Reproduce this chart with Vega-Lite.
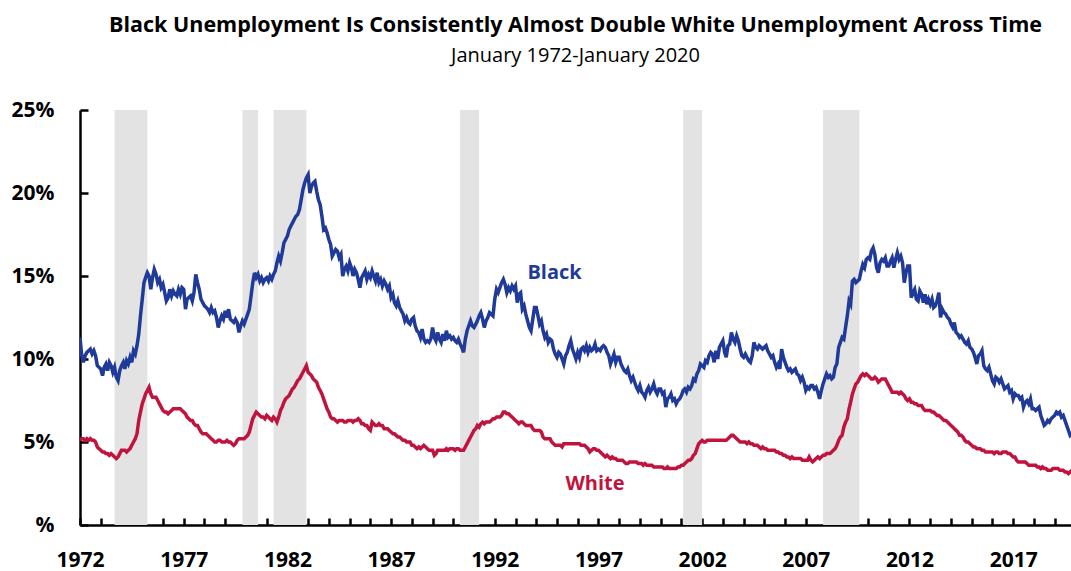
{
"$schema": "https://vega.github.io/schema/vega-lite/v6.json",
"width": 991, "height": 415,
"autosize": {"type": "none"},
"padding": {"left": 80, "top": 110, "right": 0, "bottom": 46},
"background": "white",
"config": {"view": {"stroke": null}, "font": "Open Sans"},
"title": {"text": "Black Unemployment Is Consistently Almost Double White Unemployment Across Time", "subtitle": "January 1972-January 2020", "anchor": "middle", "fontSize": 21.5, "fontWeight": "bold", "font": "Open Sans", "color": "black", "subtitleFontSize": 20, "subtitleFont": "Open Sans", "subtitleColor": "black", "subtitlePadding": 10, "offset": 33, "dx": 0},
"datasets": {
"recessions": [
{"start": "1973-09", "end": "1975-04"}, {"start": "1979-11", "end": "1980-08"}, {"start": "1981-05", "end": "1982-12"}, {"start": "1990-05", "end": "1991-04"}, {"start": "2001-02", "end": "2002-01"}, {"start": "2007-11", "end": "2009-08"}
],
"labels": [
{"label": "Black", "date": "1994-11-20", "value": 15.2}, {"label": "White", "date": "1996-11-01", "value": 2.5}
],
"rates": [
{"d":"1972-01","b":11.3,"w":5.1},{"d":"1972-02","b":10.2,"w":5.2},{"d":"1972-03","b":9.8,"w":5.2},{"d":"1972-04","b":10.2,"w":5.1},{"d":"1972-05","b":10.4,"w":5.2},{"d":"1972-06","b":10.5,"w":5.1},{"d":"1972-07","b":10.6,"w":5.2},{"d":"1972-08","b":10.3,"w":5.1},{"d":"1972-09","b":10.5,"w":5.1},{"d":"1972-10","b":10.2,"w":5.0},{"d":"1972-11","b":9.6,"w":4.7},{"d":"1972-12","b":9.5,"w":4.6},
{"d":"1973-01","b":9.4,"w":4.5},{"d":"1973-02","b":9.0,"w":4.4},{"d":"1973-03","b":9.5,"w":4.4},{"d":"1973-04","b":9.7,"w":4.3},{"d":"1973-05","b":9.3,"w":4.3},{"d":"1973-06","b":9.8,"w":4.2},{"d":"1973-07","b":9.6,"w":4.3},{"d":"1973-08","b":9.2,"w":4.2},{"d":"1973-09","b":9.5,"w":4.1},{"d":"1973-10","b":8.9,"w":4.0},{"d":"1973-11","b":8.7,"w":4.1},{"d":"1973-12","b":9.3,"w":4.3},
{"d":"1974-01","b":9.6,"w":4.5},{"d":"1974-02","b":9.8,"w":4.5},{"d":"1974-03","b":9.4,"w":4.5},{"d":"1974-04","b":9.9,"w":4.4},{"d":"1974-05","b":9.7,"w":4.5},{"d":"1974-06","b":10.1,"w":4.6},{"d":"1974-07","b":9.8,"w":4.8},{"d":"1974-08","b":10.5,"w":5.0},{"d":"1974-09","b":10.3,"w":5.2},{"d":"1974-10","b":10.8,"w":5.5},{"d":"1974-11","b":11.5,"w":6.3},{"d":"1974-12","b":12.6,"w":6.8},
{"d":"1975-01","b":13.6,"w":7.3},{"d":"1975-02","b":14.6,"w":7.6},{"d":"1975-03","b":14.9,"w":7.9},{"d":"1975-04","b":15.2,"w":8.1},{"d":"1975-05","b":15.0,"w":8.3},{"d":"1975-06","b":14.2,"w":7.9},{"d":"1975-07","b":14.9,"w":7.7},{"d":"1975-08","b":15.4,"w":7.7},{"d":"1975-09","b":15.1,"w":7.7},{"d":"1975-10","b":14.6,"w":7.5},{"d":"1975-11","b":14.8,"w":7.3},{"d":"1975-12","b":14.3,"w":7.1},
{"d":"1976-01","b":14.5,"w":6.9},{"d":"1976-02","b":14.0,"w":6.8},{"d":"1976-03","b":13.5,"w":6.8},{"d":"1976-04","b":13.7,"w":6.7},{"d":"1976-05","b":14.2,"w":6.8},{"d":"1976-06","b":13.8,"w":6.9},{"d":"1976-07","b":14.1,"w":7.0},{"d":"1976-08","b":13.9,"w":7.0},{"d":"1976-09","b":13.8,"w":7.0},{"d":"1976-10","b":14.2,"w":7.0},{"d":"1976-11","b":13.9,"w":7.0},{"d":"1976-12","b":14.3,"w":6.9},
{"d":"1977-01","b":14.2,"w":6.8},{"d":"1977-02","b":13.0,"w":6.7},{"d":"1977-03","b":13.6,"w":6.5},{"d":"1977-04","b":13.7,"w":6.4},{"d":"1977-05","b":13.8,"w":6.3},{"d":"1977-06","b":13.5,"w":6.3},{"d":"1977-07","b":14.0,"w":6.1},{"d":"1977-08","b":15.1,"w":6.0},{"d":"1977-09","b":14.6,"w":6.0},{"d":"1977-10","b":14.2,"w":5.8},{"d":"1977-11","b":13.6,"w":5.6},{"d":"1977-12","b":13.4,"w":5.5},
{"d":"1978-01","b":13.2,"w":5.5},{"d":"1978-02","b":13.1,"w":5.5},{"d":"1978-03","b":13.0,"w":5.4},{"d":"1978-04","b":12.8,"w":5.3},{"d":"1978-05","b":13.1,"w":5.2},{"d":"1978-06","b":12.8,"w":5.1},{"d":"1978-07","b":12.9,"w":5.0},{"d":"1978-08","b":12.5,"w":5.0},{"d":"1978-09","b":11.9,"w":5.1},{"d":"1978-10","b":12.3,"w":5.1},{"d":"1978-11","b":12.6,"w":5.0},{"d":"1978-12","b":12.4,"w":5.0},
{"d":"1979-01","b":12.9,"w":5.0},{"d":"1979-02","b":12.5,"w":5.1},{"d":"1979-03","b":13.0,"w":5.0},{"d":"1979-04","b":12.4,"w":5.0},{"d":"1979-05","b":12.3,"w":4.9},{"d":"1979-06","b":12.2,"w":4.8},{"d":"1979-07","b":12.4,"w":4.9},{"d":"1979-08","b":12.2,"w":5.1},{"d":"1979-09","b":11.6,"w":5.2},{"d":"1979-10","b":12.0,"w":5.2},{"d":"1979-11","b":12.3,"w":5.2},{"d":"1979-12","b":12.1,"w":5.2},
{"d":"1980-01","b":12.4,"w":5.3},{"d":"1980-02","b":12.7,"w":5.4},{"d":"1980-03","b":13.0,"w":5.6},{"d":"1980-04","b":13.8,"w":6.0},{"d":"1980-05","b":14.6,"w":6.4},{"d":"1980-06","b":15.2,"w":6.6},{"d":"1980-07","b":14.9,"w":6.8},{"d":"1980-08","b":15.1,"w":6.7},{"d":"1980-09","b":14.7,"w":6.6},{"d":"1980-10","b":14.9,"w":6.5},{"d":"1980-11","b":14.6,"w":6.5},{"d":"1980-12","b":14.8,"w":6.4},
{"d":"1981-01","b":14.9,"w":6.6},{"d":"1981-02","b":14.7,"w":6.5},{"d":"1981-03","b":15.0,"w":6.4},{"d":"1981-04","b":14.8,"w":6.3},{"d":"1981-05","b":15.1,"w":6.5},{"d":"1981-06","b":15.3,"w":6.4},{"d":"1981-07","b":15.8,"w":6.2},{"d":"1981-08","b":16.2,"w":6.5},{"d":"1981-09","b":15.9,"w":6.9},{"d":"1981-10","b":16.4,"w":7.1},{"d":"1981-11","b":17.0,"w":7.4},{"d":"1981-12","b":17.2,"w":7.6},
{"d":"1982-01","b":17.4,"w":7.7},{"d":"1982-02","b":17.8,"w":7.8},{"d":"1982-03","b":18.0,"w":8.0},{"d":"1982-04","b":18.2,"w":8.2},{"d":"1982-05","b":18.4,"w":8.3},{"d":"1982-06","b":18.6,"w":8.5},{"d":"1982-07","b":18.7,"w":8.7},{"d":"1982-08","b":19.0,"w":8.8},{"d":"1982-09","b":19.6,"w":9.0},{"d":"1982-10","b":20.2,"w":9.2},{"d":"1982-11","b":20.6,"w":9.4},{"d":"1982-12","b":20.9,"w":9.6},
{"d":"1983-01","b":21.1,"w":9.2},{"d":"1983-02","b":20.0,"w":9.1},{"d":"1983-03","b":20.4,"w":9.0},{"d":"1983-04","b":20.6,"w":8.8},{"d":"1983-05","b":20.7,"w":8.7},{"d":"1983-06","b":20.1,"w":8.6},{"d":"1983-07","b":19.6,"w":8.3},{"d":"1983-08","b":19.3,"w":8.1},{"d":"1983-09","b":18.6,"w":7.9},{"d":"1983-10","b":17.8,"w":7.6},{"d":"1983-11","b":17.9,"w":7.3},{"d":"1983-12","b":17.6,"w":7.0},
{"d":"1984-01","b":17.2,"w":6.8},{"d":"1984-02","b":16.9,"w":6.5},{"d":"1984-03","b":16.2,"w":6.4},{"d":"1984-04","b":16.4,"w":6.4},{"d":"1984-05","b":16.6,"w":6.3},{"d":"1984-06","b":16.5,"w":6.2},{"d":"1984-07","b":16.1,"w":6.3},{"d":"1984-08","b":16.3,"w":6.3},{"d":"1984-09","b":15.0,"w":6.3},{"d":"1984-10","b":15.4,"w":6.2},{"d":"1984-11","b":15.6,"w":6.2},{"d":"1984-12","b":15.3,"w":6.3},
{"d":"1985-01","b":15.8,"w":6.3},{"d":"1985-02","b":15.5,"w":6.3},{"d":"1985-03","b":15.0,"w":6.2},{"d":"1985-04","b":15.4,"w":6.3},{"d":"1985-05","b":15.2,"w":6.3},{"d":"1985-06","b":14.8,"w":6.4},{"d":"1985-07","b":14.3,"w":6.3},{"d":"1985-08","b":14.9,"w":6.1},{"d":"1985-09","b":15.1,"w":6.1},{"d":"1985-10","b":15.3,"w":6.0},{"d":"1985-11","b":14.8,"w":6.0},{"d":"1985-12","b":15.1,"w":5.8},
{"d":"1986-01","b":14.9,"w":5.7},{"d":"1986-02","b":15.3,"w":6.2},{"d":"1986-03","b":15.0,"w":6.1},{"d":"1986-04","b":14.7,"w":6.0},{"d":"1986-05","b":15.2,"w":6.0},{"d":"1986-06","b":14.6,"w":6.1},{"d":"1986-07","b":14.8,"w":6.0},{"d":"1986-08","b":14.4,"w":6.0},{"d":"1986-09","b":14.7,"w":5.8},{"d":"1986-10","b":14.5,"w":5.8},{"d":"1986-11","b":14.2,"w":5.8},{"d":"1986-12","b":14.4,"w":5.7},
{"d":"1987-01","b":13.7,"w":5.6},{"d":"1987-02","b":13.9,"w":5.5},{"d":"1987-03","b":13.4,"w":5.5},{"d":"1987-04","b":13.2,"w":5.4},{"d":"1987-05","b":13.5,"w":5.3},{"d":"1987-06","b":13.1,"w":5.3},{"d":"1987-07","b":12.9,"w":5.2},{"d":"1987-08","b":12.7,"w":5.1},{"d":"1987-09","b":12.3,"w":5.1},{"d":"1987-10","b":12.5,"w":5.0},{"d":"1987-11","b":12.2,"w":5.0},{"d":"1987-12","b":12.1,"w":5.0},
{"d":"1988-01","b":12.4,"w":4.8},{"d":"1988-02","b":12.5,"w":4.8},{"d":"1988-03","b":12.0,"w":4.7},{"d":"1988-04","b":11.7,"w":4.6},{"d":"1988-05","b":11.6,"w":4.7},{"d":"1988-06","b":11.3,"w":4.6},{"d":"1988-07","b":11.8,"w":4.7},{"d":"1988-08","b":11.2,"w":4.8},{"d":"1988-09","b":11.0,"w":4.7},{"d":"1988-10","b":11.1,"w":4.6},{"d":"1988-11","b":11.0,"w":4.5},{"d":"1988-12","b":11.2,"w":4.5},
{"d":"1989-01","b":11.9,"w":4.5},{"d":"1989-02","b":11.3,"w":4.2},{"d":"1989-03","b":11.1,"w":4.3},{"d":"1989-04","b":11.6,"w":4.5},{"d":"1989-05","b":11.2,"w":4.5},{"d":"1989-06","b":11.0,"w":4.5},{"d":"1989-07","b":11.5,"w":4.5},{"d":"1989-08","b":11.1,"w":4.5},{"d":"1989-09","b":11.7,"w":4.6},{"d":"1989-10","b":11.3,"w":4.5},{"d":"1989-11","b":11.4,"w":4.6},{"d":"1989-12","b":11.2,"w":4.6},
{"d":"1990-01","b":11.3,"w":4.6},{"d":"1990-02","b":11.1,"w":4.5},{"d":"1990-03","b":11.0,"w":4.6},{"d":"1990-04","b":11.2,"w":4.6},{"d":"1990-05","b":10.9,"w":4.5},{"d":"1990-06","b":10.7,"w":4.5},{"d":"1990-07","b":10.4,"w":4.5},{"d":"1990-08","b":11.2,"w":4.7},{"d":"1990-09","b":11.7,"w":4.9},{"d":"1990-10","b":12.0,"w":5.1},{"d":"1990-11","b":12.3,"w":5.3},{"d":"1990-12","b":12.0,"w":5.5},
{"d":"1991-01","b":11.9,"w":5.7},{"d":"1991-02","b":12.1,"w":5.8},{"d":"1991-03","b":12.3,"w":6.0},{"d":"1991-04","b":12.6,"w":5.9},{"d":"1991-05","b":12.8,"w":6.1},{"d":"1991-06","b":12.4,"w":6.2},{"d":"1991-07","b":11.9,"w":6.1},{"d":"1991-08","b":12.3,"w":6.2},{"d":"1991-09","b":12.5,"w":6.2},{"d":"1991-10","b":12.8,"w":6.2},{"d":"1991-11","b":12.7,"w":6.3},{"d":"1991-12","b":12.6,"w":6.4},
{"d":"1992-01","b":13.6,"w":6.4},{"d":"1992-02","b":14.2,"w":6.5},{"d":"1992-03","b":14.0,"w":6.5},{"d":"1992-04","b":14.3,"w":6.5},{"d":"1992-05","b":14.6,"w":6.6},{"d":"1992-06","b":14.8,"w":6.8},{"d":"1992-07","b":14.5,"w":6.8},{"d":"1992-08","b":14.0,"w":6.7},{"d":"1992-09","b":14.3,"w":6.7},{"d":"1992-10","b":14.1,"w":6.6},{"d":"1992-11","b":14.4,"w":6.5},{"d":"1992-12","b":14.2,"w":6.4},
{"d":"1993-01","b":14.4,"w":6.3},{"d":"1993-02","b":13.4,"w":6.2},{"d":"1993-03","b":13.9,"w":6.1},{"d":"1993-04","b":14.0,"w":6.2},{"d":"1993-05","b":13.0,"w":6.2},{"d":"1993-06","b":13.2,"w":6.1},{"d":"1993-07","b":12.7,"w":6.0},{"d":"1993-08","b":12.3,"w":6.0},{"d":"1993-09","b":11.9,"w":6.0},{"d":"1993-10","b":11.7,"w":6.0},{"d":"1993-11","b":12.4,"w":5.8},{"d":"1993-12","b":13.1,"w":5.7},
{"d":"1994-01","b":13.1,"w":5.7},{"d":"1994-02","b":12.6,"w":5.7},{"d":"1994-03","b":12.1,"w":5.7},{"d":"1994-04","b":12.3,"w":5.6},{"d":"1994-05","b":11.7,"w":5.3},{"d":"1994-06","b":11.3,"w":5.2},{"d":"1994-07","b":11.5,"w":5.2},{"d":"1994-08","b":11.0,"w":5.2},{"d":"1994-09","b":11.2,"w":5.2},{"d":"1994-10","b":11.1,"w":5.0},{"d":"1994-11","b":10.6,"w":4.9},{"d":"1994-12","b":10.3,"w":4.8},
{"d":"1995-01","b":10.1,"w":4.8},{"d":"1995-02","b":10.4,"w":4.8},{"d":"1995-03","b":10.3,"w":4.8},{"d":"1995-04","b":10.0,"w":4.7},{"d":"1995-05","b":9.7,"w":4.9},{"d":"1995-06","b":10.2,"w":4.9},{"d":"1995-07","b":10.4,"w":4.9},{"d":"1995-08","b":10.8,"w":4.9},{"d":"1995-09","b":11.1,"w":4.9},{"d":"1995-10","b":10.6,"w":4.9},{"d":"1995-11","b":10.3,"w":4.9},{"d":"1995-12","b":10.0,"w":4.9},
{"d":"1996-01","b":10.4,"w":4.9},{"d":"1996-02","b":10.1,"w":4.9},{"d":"1996-03","b":10.6,"w":4.8},{"d":"1996-04","b":10.7,"w":4.8},{"d":"1996-05","b":10.5,"w":4.8},{"d":"1996-06","b":10.8,"w":4.7},{"d":"1996-07","b":10.4,"w":4.6},{"d":"1996-08","b":10.7,"w":4.4},{"d":"1996-09","b":10.5,"w":4.5},{"d":"1996-10","b":10.6,"w":4.6},{"d":"1996-11","b":10.9,"w":4.6},{"d":"1996-12","b":10.5,"w":4.5},
{"d":"1997-01","b":10.6,"w":4.5},{"d":"1997-02","b":10.5,"w":4.4},{"d":"1997-03","b":10.7,"w":4.3},{"d":"1997-04","b":10.8,"w":4.2},{"d":"1997-05","b":10.7,"w":4.1},{"d":"1997-06","b":10.4,"w":4.2},{"d":"1997-07","b":10.2,"w":4.1},{"d":"1997-08","b":9.7,"w":4.0},{"d":"1997-09","b":10.0,"w":4.1},{"d":"1997-10","b":10.3,"w":4.0},{"d":"1997-11","b":9.8,"w":4.0},{"d":"1997-12","b":10.1,"w":3.9},
{"d":"1998-01","b":10.1,"w":3.9},{"d":"1998-02","b":9.7,"w":3.9},{"d":"1998-03","b":9.5,"w":3.9},{"d":"1998-04","b":9.3,"w":3.8},{"d":"1998-05","b":9.2,"w":3.7},{"d":"1998-06","b":9.4,"w":3.7},{"d":"1998-07","b":9.0,"w":3.8},{"d":"1998-08","b":8.7,"w":3.8},{"d":"1998-09","b":8.9,"w":3.8},{"d":"1998-10","b":8.6,"w":3.8},{"d":"1998-11","b":8.3,"w":3.8},{"d":"1998-12","b":8.1,"w":3.7},
{"d":"1999-01","b":8.4,"w":3.7},{"d":"1999-02","b":8.0,"w":3.7},{"d":"1999-03","b":7.9,"w":3.6},{"d":"1999-04","b":7.7,"w":3.7},{"d":"1999-05","b":8.1,"w":3.6},{"d":"1999-06","b":8.3,"w":3.6},{"d":"1999-07","b":8.0,"w":3.6},{"d":"1999-08","b":8.2,"w":3.6},{"d":"1999-09","b":8.5,"w":3.5},{"d":"1999-10","b":8.1,"w":3.5},{"d":"1999-11","b":7.9,"w":3.5},{"d":"1999-12","b":8.2,"w":3.5},
{"d":"2000-01","b":8.2,"w":3.5},{"d":"2000-02","b":7.9,"w":3.5},{"d":"2000-03","b":8.0,"w":3.4},{"d":"2000-04","b":7.1,"w":3.4},{"d":"2000-05","b":7.6,"w":3.5},{"d":"2000-06","b":7.7,"w":3.4},{"d":"2000-07","b":7.9,"w":3.4},{"d":"2000-08","b":7.5,"w":3.4},{"d":"2000-09","b":7.6,"w":3.4},{"d":"2000-10","b":7.3,"w":3.4},{"d":"2000-11","b":7.5,"w":3.5},{"d":"2000-12","b":7.6,"w":3.5},
{"d":"2001-01","b":7.8,"w":3.6},{"d":"2001-02","b":8.1,"w":3.6},{"d":"2001-03","b":8.2,"w":3.7},{"d":"2001-04","b":8.0,"w":3.8},{"d":"2001-05","b":8.3,"w":3.9},{"d":"2001-06","b":8.2,"w":3.9},{"d":"2001-07","b":8.4,"w":4.0},{"d":"2001-08","b":8.8,"w":4.2},{"d":"2001-09","b":8.7,"w":4.3},{"d":"2001-10","b":9.1,"w":4.6},{"d":"2001-11","b":9.3,"w":4.9},{"d":"2001-12","b":9.7,"w":5.0},
{"d":"2002-01","b":9.6,"w":5.1},{"d":"2002-02","b":9.5,"w":5.0},{"d":"2002-03","b":9.9,"w":5.0},{"d":"2002-04","b":9.8,"w":5.1},{"d":"2002-05","b":10.2,"w":5.1},{"d":"2002-06","b":10.4,"w":5.1},{"d":"2002-07","b":10.3,"w":5.1},{"d":"2002-08","b":9.8,"w":5.1},{"d":"2002-09","b":10.5,"w":5.1},{"d":"2002-10","b":10.0,"w":5.1},{"d":"2002-11","b":10.7,"w":5.1},{"d":"2002-12","b":10.9,"w":5.1},
{"d":"2003-01","b":11.1,"w":5.1},{"d":"2003-02","b":10.4,"w":5.1},{"d":"2003-03","b":10.1,"w":5.1},{"d":"2003-04","b":10.8,"w":5.2},{"d":"2003-05","b":10.9,"w":5.3},{"d":"2003-06","b":11.6,"w":5.4},{"d":"2003-07","b":11.2,"w":5.4},{"d":"2003-08","b":11.0,"w":5.3},{"d":"2003-09","b":11.4,"w":5.2},{"d":"2003-10","b":11.1,"w":5.1},{"d":"2003-11","b":10.6,"w":5.0},{"d":"2003-12","b":10.2,"w":5.0},
{"d":"2004-01","b":10.1,"w":5.0},{"d":"2004-02","b":10.3,"w":5.0},{"d":"2004-03","b":10.1,"w":4.9},{"d":"2004-04","b":9.9,"w":5.0},{"d":"2004-05","b":9.8,"w":4.9},{"d":"2004-06","b":10.2,"w":4.9},{"d":"2004-07","b":11.0,"w":4.8},{"d":"2004-08","b":10.7,"w":4.8},{"d":"2004-09","b":10.6,"w":4.8},{"d":"2004-10","b":10.8,"w":4.7},{"d":"2004-11","b":10.7,"w":4.6},{"d":"2004-12","b":10.6,"w":4.7},
{"d":"2005-01","b":10.7,"w":4.6},{"d":"2005-02","b":10.8,"w":4.6},{"d":"2005-03","b":10.5,"w":4.5},{"d":"2005-04","b":10.3,"w":4.5},{"d":"2005-05","b":10.1,"w":4.5},{"d":"2005-06","b":10.2,"w":4.5},{"d":"2005-07","b":9.8,"w":4.5},{"d":"2005-08","b":9.5,"w":4.4},{"d":"2005-09","b":9.7,"w":4.4},{"d":"2005-10","b":9.4,"w":4.3},{"d":"2005-11","b":10.6,"w":4.3},{"d":"2005-12","b":10.1,"w":4.2},
{"d":"2006-01","b":9.8,"w":4.2},{"d":"2006-02","b":9.5,"w":4.1},{"d":"2006-03","b":9.3,"w":4.1},{"d":"2006-04","b":9.4,"w":4.0},{"d":"2006-05","b":9.2,"w":4.1},{"d":"2006-06","b":9.3,"w":4.0},{"d":"2006-07","b":9.4,"w":4.0},{"d":"2006-08","b":9.1,"w":4.0},{"d":"2006-09","b":9.0,"w":4.0},{"d":"2006-10","b":8.7,"w":4.0},{"d":"2006-11","b":8.9,"w":3.9},{"d":"2006-12","b":8.6,"w":3.9},
{"d":"2007-01","b":8.1,"w":3.9},{"d":"2007-02","b":8.3,"w":3.9},{"d":"2007-03","b":8.2,"w":4.1},{"d":"2007-04","b":8.4,"w":3.9},{"d":"2007-05","b":8.4,"w":3.8},{"d":"2007-06","b":8.2,"w":3.9},{"d":"2007-07","b":8.3,"w":4.0},{"d":"2007-08","b":8.0,"w":4.1},{"d":"2007-09","b":7.6,"w":4.0},{"d":"2007-10","b":8.1,"w":4.1},{"d":"2007-11","b":8.5,"w":4.2},{"d":"2007-12","b":8.8,"w":4.2},
{"d":"2008-01","b":9.1,"w":4.3},{"d":"2008-02","b":8.9,"w":4.3},{"d":"2008-03","b":9.0,"w":4.3},{"d":"2008-04","b":8.8,"w":4.4},{"d":"2008-05","b":8.9,"w":4.5},{"d":"2008-06","b":9.5,"w":4.6},{"d":"2008-07","b":9.7,"w":4.8},{"d":"2008-08","b":10.7,"w":5.1},{"d":"2008-09","b":11.0,"w":5.3},{"d":"2008-10","b":11.3,"w":5.4},{"d":"2008-11","b":11.2,"w":5.9},{"d":"2008-12","b":11.9,"w":6.2},
{"d":"2009-01","b":12.6,"w":6.4},{"d":"2009-02","b":13.5,"w":7.0},{"d":"2009-03","b":13.3,"w":7.4},{"d":"2009-04","b":14.7,"w":7.9},{"d":"2009-05","b":14.8,"w":8.2},{"d":"2009-06","b":14.6,"w":8.5},{"d":"2009-07","b":14.7,"w":8.6},{"d":"2009-08","b":14.8,"w":8.8},{"d":"2009-09","b":15.3,"w":9.0},{"d":"2009-10","b":15.7,"w":9.1},{"d":"2009-11","b":15.5,"w":9.0},{"d":"2009-12","b":16.0,"w":9.1},
{"d":"2010-01","b":16.1,"w":9.0},{"d":"2010-02","b":16.0,"w":8.9},{"d":"2010-03","b":16.5,"w":8.8},{"d":"2010-04","b":16.7,"w":8.8},{"d":"2010-05","b":16.3,"w":8.9},{"d":"2010-06","b":15.5,"w":8.8},{"d":"2010-07","b":15.2,"w":8.6},{"d":"2010-08","b":15.8,"w":8.7},{"d":"2010-09","b":16.0,"w":8.8},{"d":"2010-10","b":15.9,"w":8.8},{"d":"2010-11","b":16.1,"w":8.8},{"d":"2010-12","b":15.6,"w":8.6},
{"d":"2011-01","b":15.6,"w":8.4},{"d":"2011-02","b":15.9,"w":8.2},{"d":"2011-03","b":16.1,"w":8.0},{"d":"2011-04","b":15.5,"w":8.0},{"d":"2011-05","b":16.0,"w":8.0},{"d":"2011-06","b":16.4,"w":8.0},{"d":"2011-07","b":16.0,"w":7.9},{"d":"2011-08","b":16.2,"w":8.0},{"d":"2011-09","b":15.8,"w":7.9},{"d":"2011-10","b":14.6,"w":7.8},{"d":"2011-11","b":15.2,"w":7.6},{"d":"2011-12","b":15.6,"w":7.5},
{"d":"2012-01","b":15.6,"w":7.6},{"d":"2012-02","b":13.7,"w":7.4},{"d":"2012-03","b":14.0,"w":7.4},{"d":"2012-04","b":14.2,"w":7.3},{"d":"2012-05","b":13.6,"w":7.3},{"d":"2012-06","b":13.5,"w":7.2},{"d":"2012-07","b":14.1,"w":7.2},{"d":"2012-08","b":13.9,"w":7.2},{"d":"2012-09","b":13.4,"w":7.0},{"d":"2012-10","b":13.9,"w":6.9},{"d":"2012-11","b":13.3,"w":6.9},{"d":"2012-12","b":13.6,"w":6.9},
{"d":"2013-01","b":13.3,"w":6.9},{"d":"2013-02","b":13.6,"w":6.8},{"d":"2013-03","b":13.1,"w":6.8},{"d":"2013-04","b":13.2,"w":6.7},{"d":"2013-05","b":13.5,"w":6.6},{"d":"2013-06","b":14.0,"w":6.6},{"d":"2013-07","b":12.5,"w":6.5},{"d":"2013-08","b":13.0,"w":6.4},{"d":"2013-09","b":12.8,"w":6.3},{"d":"2013-10","b":12.7,"w":6.3},{"d":"2013-11","b":12.5,"w":6.2},{"d":"2013-12","b":12.4,"w":6.1},
{"d":"2014-01","b":12.1,"w":6.0},{"d":"2014-02","b":11.9,"w":5.9},{"d":"2014-03","b":12.2,"w":5.8},{"d":"2014-04","b":11.6,"w":5.7},{"d":"2014-05","b":11.5,"w":5.6},{"d":"2014-06","b":11.3,"w":5.4},{"d":"2014-07","b":11.4,"w":5.4},{"d":"2014-08","b":11.2,"w":5.3},{"d":"2014-09","b":11.0,"w":5.1},{"d":"2014-10","b":10.9,"w":5.0},{"d":"2014-11","b":11.1,"w":5.0},{"d":"2014-12","b":10.7,"w":4.9},
{"d":"2015-01","b":10.6,"w":4.8},{"d":"2015-02","b":10.4,"w":4.7},{"d":"2015-03","b":10.1,"w":4.7},{"d":"2015-04","b":9.7,"w":4.6},{"d":"2015-05","b":10.2,"w":4.6},{"d":"2015-06","b":10.3,"w":4.6},{"d":"2015-07","b":10.5,"w":4.5},{"d":"2015-08","b":9.6,"w":4.5},{"d":"2015-09","b":9.4,"w":4.4},{"d":"2015-10","b":9.3,"w":4.4},{"d":"2015-11","b":9.5,"w":4.4},{"d":"2015-12","b":9.1,"w":4.4},
{"d":"2016-01","b":8.7,"w":4.4},{"d":"2016-02","b":8.5,"w":4.3},{"d":"2016-03","b":8.9,"w":4.4},{"d":"2016-04","b":8.8,"w":4.4},{"d":"2016-05","b":8.6,"w":4.3},{"d":"2016-06","b":8.8,"w":4.3},{"d":"2016-07","b":8.5,"w":4.4},{"d":"2016-08","b":8.2,"w":4.4},{"d":"2016-09","b":8.3,"w":4.4},{"d":"2016-10","b":8.4,"w":4.3},{"d":"2016-11","b":8.0,"w":4.3},{"d":"2016-12","b":8.1,"w":4.2},
{"d":"2017-01","b":7.6,"w":4.1},{"d":"2017-02","b":7.9,"w":4.1},{"d":"2017-03","b":7.8,"w":3.9},{"d":"2017-04","b":7.8,"w":3.8},{"d":"2017-05","b":7.6,"w":3.8},{"d":"2017-06","b":7.7,"w":3.8},{"d":"2017-07","b":7.1,"w":3.8},{"d":"2017-08","b":7.4,"w":3.8},{"d":"2017-09","b":7.5,"w":3.7},{"d":"2017-10","b":7.3,"w":3.6},{"d":"2017-11","b":7.6,"w":3.6},{"d":"2017-12","b":7.0,"w":3.6},
{"d":"2018-01","b":7.0,"w":3.6},{"d":"2018-02","b":6.9,"w":3.6},{"d":"2018-03","b":7.0,"w":3.5},{"d":"2018-04","b":7.1,"w":3.5},{"d":"2018-05","b":6.6,"w":3.4},{"d":"2018-06","b":6.3,"w":3.5},{"d":"2018-07","b":6.0,"w":3.4},{"d":"2018-08","b":6.1,"w":3.4},{"d":"2018-09","b":6.3,"w":3.3},{"d":"2018-10","b":6.2,"w":3.3},{"d":"2018-11","b":6.4,"w":3.3},{"d":"2018-12","b":6.5,"w":3.4},
{"d":"2019-01","b":6.6,"w":3.4},{"d":"2019-02","b":6.8,"w":3.4},{"d":"2019-03","b":6.7,"w":3.4},{"d":"2019-04","b":6.8,"w":3.3},{"d":"2019-05","b":6.5,"w":3.3},{"d":"2019-06","b":6.6,"w":3.3},{"d":"2019-07","b":6.3,"w":3.2},{"d":"2019-08","b":6.0,"w":3.2},{"d":"2019-09","b":5.7,"w":3.1},{"d":"2019-10","b":5.4,"w":3.2},{"d":"2019-11","b":5.5,"w":3.3},{"d":"2019-12","b":5.6,"w":3.2},
{"d":"2020-01","b":5.6,"w":3.2}
]
},
"layer": [
{"data": {"name": "recessions"}, "mark": {"type": "rect", "color": "#e3e3e3"},
 "encoding": {
  "x": {"field": "start", "type": "temporal", "title": null,
   "scale": {"type": "utc", "domain": [{"year": 1972, "month": 1, "date": 1, "utc": true}, {"year": 2019, "month": 10, "date": 16, "utc": true}]},
   "axis": {"title": null, "tickCount": {"interval": "year", "step": 1}, "labelExpr": "utcyear(datum.value) % 5 == 2 ? utcFormat(datum.value, '%Y') : ''", "labelOverlap": false, "labelFlush": false, "labelBound": false, "labelFont": "Open Sans", "labelFontSize": 21, "labelFontWeight": "bold", "labelColor": "black", "labelPadding": 31, "tickSize": -7, "tickWidth": 2.5, "tickColor": "black", "domainColor": "black", "domainWidth": 2.5, "grid": false}},
  "x2": {"field": "end"}
 }},
{"data": {"name": "rates"}, "mark": {"type": "line", "color": "#1f3a98", "strokeWidth": 3.5, "clip": true},
 "encoding": {
  "x": {"field": "d", "type": "temporal", "title": null},
  "y": {"field": "b", "type": "quantitative", "title": null, "scale": {"domain": [0, 25], "nice": false},
   "axis": {"title": null, "values": [0, 5, 10, 15, 20, 25], "labelExpr": "datum.value == 0 ? '%' : datum.value + '%'", "labelFont": "Open Sans", "labelFontSize": 21, "labelFontWeight": "bold", "labelColor": "black", "labelPadding": 34, "tickSize": -8, "tickWidth": 2.5, "tickColor": "black", "domainColor": "black", "domainWidth": 2.5, "grid": false}}
 }},
{"data": {"name": "rates"}, "mark": {"type": "line", "color": "#c0143f", "strokeWidth": 3.5, "clip": true},
 "encoding": {
  "x": {"field": "d", "type": "temporal", "title": null},
  "y": {"field": "w", "type": "quantitative", "title": null}
 }},
{"data": {"name": "labels"}, "mark": {"type": "text", "fontSize": 20, "fontWeight": "bold", "font": "Open Sans", "align": "center", "baseline": "middle"},
 "encoding": {
  "x": {"field": "date", "type": "temporal", "title": null},
  "y": {"field": "value", "type": "quantitative", "title": null},
  "text": {"field": "label"},
  "color": {"field": "label", "type": "nominal", "scale": {"domain": ["Black", "White"], "range": ["#1f3a98", "#c0143f"]}, "legend": null}
 }}
]
}
